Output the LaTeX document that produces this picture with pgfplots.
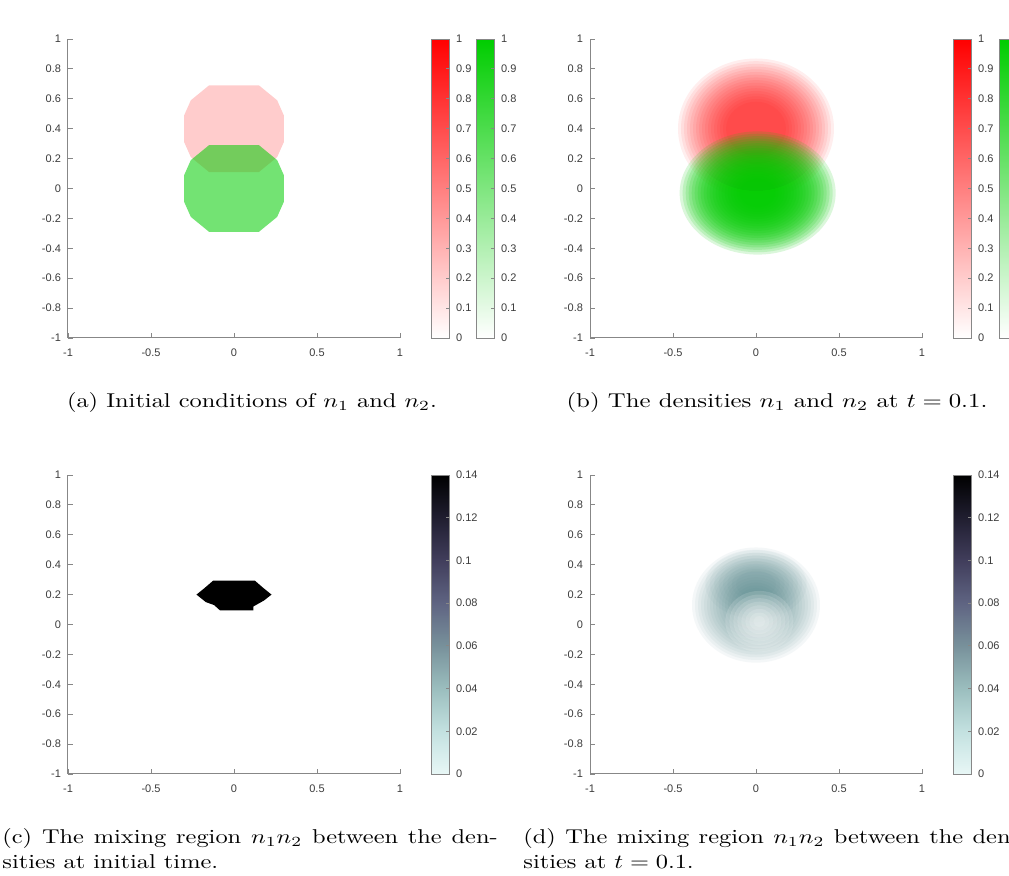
\documentclass[border=0pt]{standalone}
\usepackage{fontspec}
\usepackage{graphicx}
\usepackage{pgfplots}
\pgfplotsset{compat=1.18}
\newfontfamily\tickfont{Liberation Sans}
\definecolor{rr}{RGB}{255,0,0}
\definecolor{gg}{RGB}{0,205,0}
\definecolor{tl}{RGB}{70,125,130}
\definecolor{axc}{RGB}{135,135,135}
\definecolor{txc}{RGB}{60,60,60}
\pgfplotsset{
  panel/.style={
    scale only axis, width=166pt, height=149.5pt,
    xmin=-1, xmax=1, ymin=-1, ymax=1,
    axis x line*=bottom, axis y line*=left,
    axis line style={axc, line width=0.5pt, -},
    tick style={axc, line width=0.4pt},
    tick align=inside, major tick length=2.5pt,
    xtick={-1,-0.5,0,0.5,1},
    ytick={-1,-0.8,-0.6,-0.4,-0.2,0,0.2,0.4,0.6,0.8,1},
    scaled ticks=false,
    /pgf/number format/fixed, /pgf/number format/precision=2,
    /pgf/number format/assume math mode=true,
    tick label style={font=\tickfont\fontsize{5.5}{6}\selectfont, text=txc},
    xticklabel style={yshift=-2pt},
    axis on top,
    anchor=south west,
  },
  blob/.style={only marks, mark=*, color=#1, draw opacity=0,
    every mark/.append style={draw opacity=0, draw=none}},
  cb/.style={
    colorbar,
    colorbar style={
      width=9pt,
      at={(parent axis.north east)}, anchor=north west, xshift=#1,
      axis line style={axc, line width=0.4pt},
      tick style={axc, line width=0.4pt},
      tick align=inside, major tick length=1.5pt,
      ytick pos=right,
      scaled y ticks=false,
      /pgf/number format/fixed, /pgf/number format/precision=2,
      /pgf/number format/assume math mode=true,
      tick label style={font=\tickfont\fontsize{5.5}{6}\selectfont, text=txc},
    },
  },
}
\begin{document}
\begin{tikzpicture}
\useasboundingbox (0,0) rectangle (504.5pt,-438pt);
\fill[white] (0,0) rectangle (504.5pt,-438pt);

% ---------------- (a) ----------------
\begin{axis}[panel, at={(34pt,-169pt)},
  colormap={rm}{rgb255=(255,255,255) rgb255=(255,0,0)},
  point meta min=0, point meta max=1, cb=7pt,
  colorbar style={ytick={0,0.1,0.2,0.3,0.4,0.5,0.6,0.7,0.8,0.9,1}}]
  \addplot[fill=rr, fill opacity=0.2, draw=none] coordinates {
    (-0.15,0.69) (0.15,0.69) (0.26,0.59) (0.3,0.49) (0.3,0.31) (0.26,0.21)
    (0.15,0.11) (-0.15,0.11) (-0.26,0.21) (-0.3,0.31) (-0.3,0.49) (-0.26,0.59)};
  \addplot[fill=gg, fill opacity=0.55, draw=none] coordinates {
    (-0.15,0.29) (0.15,0.29) (0.26,0.19) (0.3,0.09) (0.3,-0.09) (0.26,-0.19)
    (0.15,-0.29) (-0.15,-0.29) (-0.26,-0.19) (-0.3,-0.09) (-0.3,0.09) (-0.26,0.19)};
\end{axis}
\begin{axis}[panel, at={(34pt,-169pt)}, hide axis,
  colormap={gm}{rgb255=(255,255,255) rgb255=(0,205,0)},
  point meta min=0, point meta max=1, cb=29.5pt,
  colorbar style={ytick={0,0.1,0.2,0.3,0.4,0.5,0.6,0.7,0.8,0.9,1}}]
  \addplot[draw=none] coordinates {(0,0)};
\end{axis}

% ---------------- (b) ----------------
\begin{axis}[panel, at={(295pt,-169pt)},
  colormap={rm}{rgb255=(255,255,255) rgb255=(255,0,0)},
  point meta min=0, point meta max=1, cb=7pt,
  colorbar style={ytick={0,0.1,0.2,0.3,0.4,0.5,0.6,0.7,0.8,0.9,1}}]
  \pgfplotsinvokeforeach{39,37.5,36,34.5,33,31.5,30,28.5,27,25.5,24,22.5,21,19.5,18,16.5,15}{
    \addplot[blob=rr, mark size=#1pt,
      mark options={fill=rr, fill opacity=0.068, draw opacity=0, yscale=0.9}]
      coordinates {(0,0.4)};
  }
  \addplot[fill=white, draw=none] coordinates {
    (-0.56,0.1) (-0.5,0.153) (-0.4,0.238) (-0.3,0.298) (-0.2,0.339) (-0.1,0.362)
    (0,0.372) (0.1,0.362) (0.2,0.339) (0.3,0.298) (0.4,0.238) (0.5,0.153)
    (0.56,0.1) (0.56,-0.12) (-0.56,-0.12)};
  \pgfplotsinvokeforeach{39,37.5,36,34.5,33,31.5,30,28.5,27,25.5,24,22.5,21,19.5,18,16.5,15,13.5,12,10.5,9}{
    \addplot[blob=gg, mark size=#1pt,
      mark options={fill=gg, fill opacity=0.14, draw opacity=0, yscale=0.79}]
      coordinates {(0.01,-0.03)};
  }
\end{axis}
\begin{axis}[panel, at={(295pt,-169pt)}, hide axis,
  colormap={gm}{rgb255=(255,255,255) rgb255=(0,205,0)},
  point meta min=0, point meta max=1, cb=30pt,
  colorbar style={ytick={0,0.1,0.2,0.3,0.4,0.5,0.6,0.7,0.8,0.9,1}}]
  \addplot[draw=none] coordinates {(0,0)};
\end{axis}

% ---------------- (c) ----------------
\begin{axis}[panel, at={(34pt,-387pt)},
  colormap={bm}{rgb255=(232,247,246) rgb255=(195,225,224) rgb255=(155,190,190)
    rgb255=(120,145,155) rgb255=(95,100,130) rgb255=(65,62,92) rgb255=(32,30,48) rgb255=(0,0,0)},
  point meta min=0, point meta max=0.14, cb=7pt,
  colorbar style={ytick={0,0.02,0.04,0.06,0.08,0.1,0.12,0.14}}]
  \addplot[fill=black, draw=none] coordinates {
    (-0.126,0.293) (0.126,0.293) (0.176,0.245) (0.226,0.2) (0.18,0.16) (0.116,0.12)
    (0.116,0.095) (-0.085,0.095) (-0.12,0.13) (-0.17,0.15) (-0.226,0.2) (-0.176,0.245)};
\end{axis}

% ---------------- (d) ----------------
\begin{axis}[panel, at={(295pt,-387pt)},
  colormap={bm}{rgb255=(232,247,246) rgb255=(195,225,224) rgb255=(155,190,190)
    rgb255=(120,145,155) rgb255=(95,100,130) rgb255=(65,62,92) rgb255=(32,30,48) rgb255=(0,0,0)},
  point meta min=0, point meta max=0.14, cb=7pt,
  colorbar style={ytick={0,0.02,0.04,0.06,0.08,0.1,0.12,0.14}}]
  \pgfplotsinvokeforeach{32,30.5,29,27.5,26,24.5,23,21.5,20,18.5,17,15.5,14,12.5,11,9.5,8}{
    \addplot[blob=tl, mark size=#1pt,
      mark options={fill=tl, fill opacity=0.055, draw opacity=0, yscale=0.9}]
      coordinates {(0,0.13)};
  }
  \pgfplotsinvokeforeach{23,21,19,17,15,13,11,9}{
    \addplot[blob=tl, mark size=#1pt,
      mark options={fill=tl, fill opacity=0.045, draw opacity=0, xscale=1.1, yscale=0.75}]
      coordinates {(0,0.27)};
  }
  \pgfplotsinvokeforeach{17,15,13,11,9,7,5,3}{
    \addplot[blob=white, mark size=#1pt,
      mark options={fill=white, fill opacity=0.15, draw opacity=0, yscale=0.9}]
      coordinates {(0.02,0.02)};
  }
\end{axis}

% ---------------- captions ----------------
\node[anchor=base, inner sep=0] at (126pt,-204pt)
  {\scalebox{1.22}[1]{(a) Initial conditions of $n_1$ and $n_2$.}};
\node[anchor=base, inner sep=0] at (388.5pt,-204pt)
  {\scalebox{1.24}[1]{(b) The densities $n_1$ and $n_2$ at $t=0.1$.}};
\node[anchor=base west, inner sep=0] at (1pt,-422pt)
  {\scalebox{1.22}[1]{\makebox[203pt][s]{(c) The mixing region $n_1n_2$ between the den-}}};
\node[anchor=base west, inner sep=0] at (1pt,-434.5pt)
  {\scalebox{1.22}[1]{sities at initial time.}};
\node[anchor=base west, inner sep=0] at (261.5pt,-422pt)
  {\scalebox{1.22}[1]{\makebox[203pt][s]{(d) The mixing region $n_1n_2$ between the den-}}};
\node[anchor=base west, inner sep=0] at (261.5pt,-434.5pt)
  {\scalebox{1.22}[1]{sities at $t=0.1$.}};
\end{tikzpicture}
\end{document}
